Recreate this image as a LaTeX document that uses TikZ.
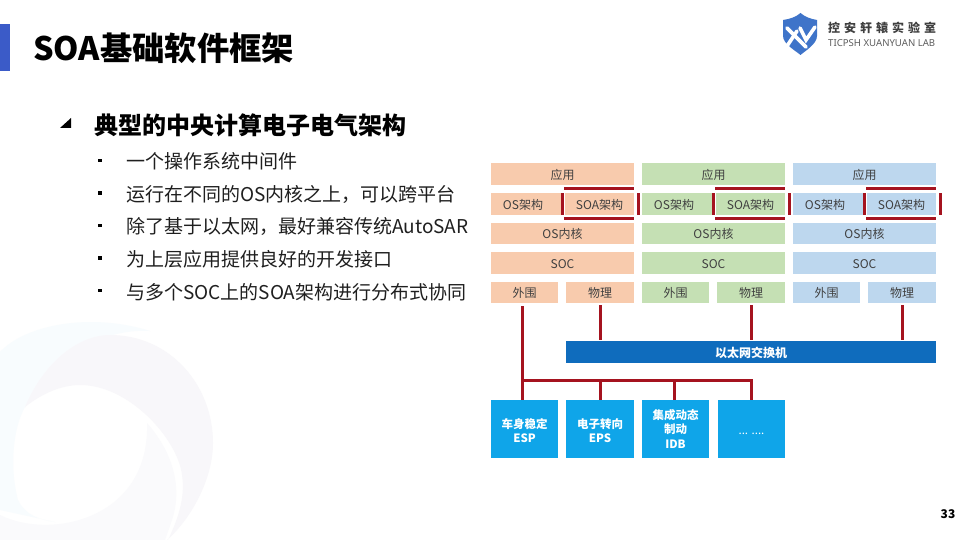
\documentclass[tikz,border=0pt]{standalone}
\usepackage{fontspec}
\setmainfont{Noto Sans CJK SC}
\newfontfamily\logofont{Noto Sans}
\definecolor{peach}{HTML}{F8CBAD}
\definecolor{leaf}{HTML}{C5E0B4}
\definecolor{sky}{HTML}{BDD7EE}
\definecolor{wire}{HTML}{A5131F}
\definecolor{switchblue}{HTML}{0F6CBD}
\definecolor{ecu}{HTML}{0FA5E9}
\definecolor{inkgrey}{HTML}{404040}
\definecolor{sidebar}{HTML}{3B5BC8}
\definecolor{shield}{HTML}{3F74C9}
\definecolor{swirlgrey}{HTML}{F8F7FA}
\definecolor{swirlblue}{HTML}{F8FCFE}
\definecolor{swirlpale}{HTML}{FAFAFC}
\tikzset{
  layer/.style={inner sep=0pt,outer sep=0pt,font=\fontsize{12}{13}\selectfont,text=inkgrey,align=center,
    execute at begin node={\rule{0pt}{11.8pt}}},
  redbar/.style={draw=wire,line width=3pt},
  link/.style={draw=wire,line width=3pt},
  ecubox/.style={layer,fill=ecu,text=white,font=\fontsize{11.5}{14.5}\selectfont\bfseries},
  bulletmark/.style={fill=black,inner sep=0pt,minimum size=3.6pt},
  itemtext/.style={anchor=base west,inner sep=0pt,font=\fontsize{19}{20}\selectfont,text=black!88},
}
% name, x1, y1, x2, y2, style, text
\newcommand{\bx}[7]{%
  \pgfmathsetmacro{\bw}{(#4)-(#2)}\pgfmathsetmacro{\bh}{(#5)-(#3)}%
  \pgfmathsetmacro{\cxx}{((#2)+(#4))/2}\pgfmathsetmacro{\cyy}{((#3)+(#5))/2}%
  \node[layer,#6,minimum width=\bw pt,minimum height=\bh pt] (#1) at (\cxx,\cyy) {#7};}
\newcommand{\stack}[3]{% prefix, x offset, colour
  \bx{#1app}{491+#2}{163.5}{634+#2}{185}{fill=#3}{应用}
  \bx{#1os}{491+#2}{193}{561+#2}{214.5}{fill=#3}{\hspace*{-6pt}OS架构}
  \bx{#1soa}{565+#2}{193}{634+#2}{214.5}{fill=#3}{SOA架构}
  \bx{#1ker}{491+#2}{223}{634+#2}{244}{fill=#3}{OS内核}
  \bx{#1soc}{491+#2}{252}{634+#2}{274}{fill=#3}{SOC}
  \bx{#1per}{491+#2}{282}{558+#2}{303}{fill=#3}{外围}
  \bx{#1phy}{566+#2}{282}{634+#2}{303}{fill=#3}{物理}
  \draw[redbar] ([yshift=4.3pt,xshift=-1pt]#1soa.north west) -- ([yshift=4.3pt]#1soa.north east);
  \draw[redbar] ([yshift=-4.3pt,xshift=-1pt]#1soa.south west) -- ([yshift=-4.3pt]#1soa.south east);
  \draw[redbar] ([xshift=-2.8pt]#1soa.north west) -- ([xshift=-2.8pt]#1soa.south west);
  \draw[redbar] ([xshift=4pt]#1soa.north east) -- ([xshift=4pt]#1soa.south east);
}
\begin{document}
\begin{tikzpicture}[x=1pt,y=-1pt]
\useasboundingbox (0,0) rectangle (960,540);
\fill[white] (0,0) rectangle (960,540);
% background swirl
\begin{scope}
\clip (0,0) rectangle (960,540);
\fill[swirlblue] (0,352) .. controls (25,325) and (90,312) .. (150,331)
  .. controls (100,328) and (50,360) .. (25,407) .. controls (12,430) and (10,470) .. (18,500)
  .. controls (25,515) and (40,520) .. (55,522) -- (0,510) -- cycle;
\fill[swirlgrey] (25,407) .. controls (45,360) and (80,335) .. (110,335)
  .. controls (170,335) and (213,385) .. (213,443)
  .. controls (213,480) and (190,520) .. (167,540) -- (168,540)
  .. controls (180,515) and (185,495) .. (182,475) .. controls (178,440) and (130,385) .. (80,385)
  .. controls (60,385) and (40,395) .. (25,407) -- cycle;
\fill[swirlpale] (147,423) .. controls (175,455) and (182,490) .. (172,520)
  -- (165,540) -- (0,540) -- (0,515) .. controls (50,540) and (150,520) .. (147,423) -- cycle;
\end{scope}
% header
\fill[sidebar] (0,24) rectangle (10,71);
\node[anchor=base west,inner sep=0pt,font=\fontsize{32.3}{34}\selectfont\bfseries,text=black] (title) at (33,61) {SOA基础软件框架};
% logo
\fill[shield] (800.5,13) .. controls (796,17) and (790,19) .. (783,20) -- (783,36)
  .. controls (783,44) and (796,51) .. (800.5,55) .. controls (805,51) and (817,44) .. (817,36) -- (817,20)
  .. controls (811,19) and (805,17) .. (800.5,13) -- cycle;
\draw[white,line width=3.6pt,line cap=round] (787,28) -- (806,47);
\draw[white,line width=3.6pt,line cap=round] (787,46) -- (797,31);
\draw[white,line width=3.6pt,line cap=round] (800,28) -- (806,40) -- (815,27);
\node[anchor=base west,inner sep=0pt,font=\fontsize{12}{13}\selectfont\bfseries,text=inkgrey] (logoa) at (828,33)
  {控\hspace{4pt}安\hspace{4pt}轩\hspace{4pt}辕\hspace{4pt}实\hspace{4pt}验\hspace{4pt}室};
\node[anchor=base west,inner sep=0pt,font=\logofont\fontsize{9.6}{11}\selectfont,text=inkgrey!85] (logob) at (828,47) {TICPSH XUANYUAN LAB};
% text list
\fill[black] (71,118) -- (71,128) -- (60,128) -- cycle;
\node[anchor=base west,inner sep=0pt,font=\fontsize{24}{26}\selectfont\bfseries,text=black] (head) at (94,135) {典型的中央计算电子电气架构};
\node[bulletmark] (m1) at (100,160.5) {};
\node[itemtext] (i1) at (126,168) {一个操作系统中间件};
\node[bulletmark] (m2) at (100,193) {};
\node[itemtext] (i2) at (126,201) {运行在不同的OS内核之上，可以跨平台};
\node[bulletmark] (m3) at (100,225.5) {};
\node[itemtext] (i3) at (126,233) {除了基于以太网，最好兼容传统AutoSAR};
\node[bulletmark] (m4) at (100,258) {};
\node[itemtext] (i4) at (126,266) {为上层应用提供良好的开发接口};
\node[bulletmark] (m5) at (100,290.5) {};
\node[itemtext] (i5) at (126,299) {与多个SOC上的SOA架构进行分布式协同};
% stacks
\stack{a}{0}{peach}
\stack{b}{151}{leaf}
\stack{c}{302}{sky}
% switch and ECUs
\bx{sw}{566}{341}{936}{363}{fill=switchblue,text=white,font=\fontsize{12}{13}\selectfont\bfseries}{以太网交换机}
\bx{esp}{491}{400}{558}{457.5}{ecubox}{\rule{0pt}{14pt}车身稳定\\ESP}
\bx{eps}{566}{400}{634}{457.5}{ecubox}{\rule{0pt}{14pt}电子转向\\EPS}
\bx{idb}{642}{400}{709}{457.5}{ecubox}{集成动态\\制动\\IDB}
\bx{more}{718}{400}{785}{457.5}{ecubox,font=\fontsize{11.5}{14}\selectfont}{... ....}
% links
\coordinate (busL) at ([xshift=-2pt]esp.north |- 0,380);
\coordinate (busR) at ([xshift=0pt]more.north |- 0,380);
\draw[link,shorten <=3pt] ([xshift=-2pt]aper.south) -- ([xshift=-2pt]esp.north);
\draw[link,shorten <=2pt,shorten >=1pt] (aphy.south) -- (aphy.south |- sw.north);
\draw[link,shorten <=2pt,shorten >=1pt] (bphy.south) -- (bphy.south |- sw.north);
\draw[link,shorten <=2pt,shorten >=1pt] (cphy.south) -- (cphy.south |- sw.north);
\draw[link] (busL) -- ([xshift=1.5pt]busR);
\draw[link] (eps.north |- busL) -- (eps.north);
\draw[link] ([xshift=-1pt]idb.north |- busL) -- ([xshift=-1pt]idb.north);
\draw[link] (busR) -- (more.north);
% page number
\node[anchor=base,inner sep=0pt,font=\fontsize{12}{13}\selectfont\bfseries,text=black] (page) at (948,518) {33};
\end{tikzpicture}
\end{document}
